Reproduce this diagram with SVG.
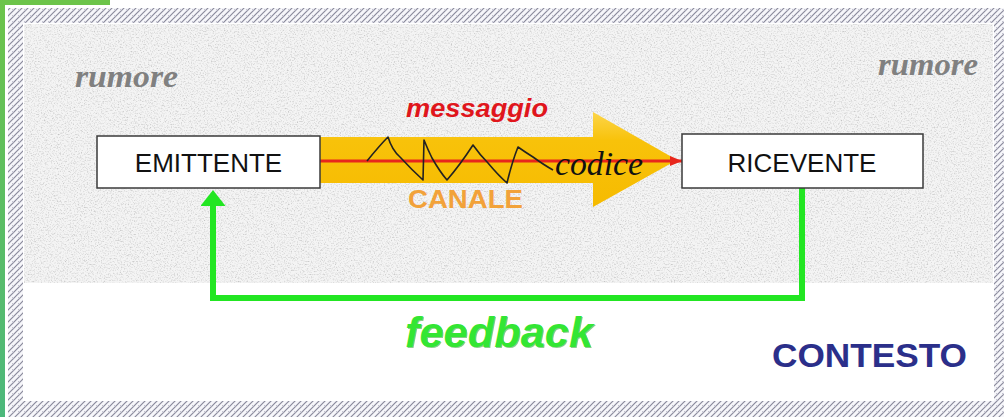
<svg xmlns="http://www.w3.org/2000/svg" width="1004" height="417" viewBox="0 0 1004 417">
  <style>
    .box { fill: #ffffff; stroke: #3a3a3a; stroke-width: 1.5; }
    .boxtxt { font-family: "Liberation Sans", Arial, sans-serif; font-size: 26px; fill: #111; text-anchor: middle; }
    .rumore { font-family: "Liberation Serif", "Times New Roman", serif; font-style: italic; font-weight: bold; font-size: 32px; fill: #808080; }
    .fb { fill: none; stroke: #22e622; stroke-width: 6; stroke-linejoin: miter; }
  </style>
  <defs>
    <pattern id="hatch" width="6" height="6" patternUnits="userSpaceOnUse">
      <rect width="6" height="6" fill="#f6f6fa"/>
      <path d="M0,6 L6,0 M-1,1 L1,-1 M5,7 L7,5" stroke="#8a8a9c" stroke-width="1.2"/>
      <path d="M0,3 L1.5,4.5" stroke="#b8b8c6" stroke-width="0.8"/>
    </pattern>
    <linearGradient id="leftbar" x1="0" y1="0" x2="0" y2="1">
      <stop offset="0" stop-color="#6cc44a"/>
      <stop offset="1" stop-color="#4cb87c"/>
    </linearGradient>
    <linearGradient id="yellow" x1="0" y1="0" x2="0" y2="1">
      <stop offset="0" stop-color="#fcd54a"/>
      <stop offset="0.3" stop-color="#f8c20a"/>
      <stop offset="1" stop-color="#f6bb00"/>
    </linearGradient>
    <filter id="noise" x="0" y="0" width="100%" height="100%">
      <feTurbulence type="fractalNoise" baseFrequency="0.7" numOctaves="3" seed="7" result="t"/>
      <feColorMatrix in="t" type="matrix" values="1.3 0 0 0 0.3  1.3 0 0 0 0.3  1.3 0 0 0 0.3  0 0 0 0 0.6" result="n"/>
      <feComposite in="n" in2="SourceGraphic" operator="in"/>
    </filter>
    <marker id="redhead" markerWidth="12" markerHeight="10" refX="12" refY="5" orient="auto" markerUnits="userSpaceOnUse">
      <path d="M0,0 L12,5 L0,10 Z" fill="#e8261c"/>
    </marker>
    <marker id="greenhead" markerWidth="17" markerHeight="25" refX="0" refY="12.5" orient="auto" markerUnits="userSpaceOnUse">
      <path d="M0,0 L16,12.5 L0,25 Z" fill="#22e622"/>
    </marker>
  </defs>

  <!-- background & frame -->
  <rect x="0" y="0" width="1004" height="417" fill="#ffffff"/>
  <rect x="8" y="8" width="1004" height="417" fill="url(#hatch)"/>
  <rect x="23" y="23" width="971" height="378" fill="#ffffff"/>
  <rect x="24" y="24" width="969" height="259" fill="#e4e4e4"/>
  <rect x="24" y="24" width="969" height="259" fill="#ffffff" filter="url(#noise)"/>
  <rect x="0" y="0" width="110" height="5" fill="#6cc44a"/>
  <rect x="0" y="0" width="5" height="417" fill="url(#leftbar)"/>

  <!-- channel arrow -->
  <g id="canale">
    <path d="M320,137 L593,137 L593,112 L677,160 L593,207 L593,183 L320,183 Z" fill="url(#yellow)"/>
  </g>

  <!-- connectors -->
  <g id="connectors">
    <line x1="320" y1="161" x2="682" y2="161" stroke="#e8261c" stroke-width="3" marker-end="url(#redhead)"/>
    <path d="M367,161 Q380,145 388,137 Q392,150 400,157 Q412,170 423,180 L424,140 Q428,150 432,158 Q440,172 447,180 Q460,165 473,145 Q480,155 488,163 Q498,175 507,183 Q512,162 518,147 Q525,152 533,157 Q544,165 553,170" fill="none" stroke="#222" stroke-width="1.6" stroke-linejoin="round"/>
    <path class="fb" d="M802,188 L802,298 L213,298 L213,206" marker-end="url(#greenhead)"/>
  </g>

  <g id="node-emittente">
    <rect class="box" x="97" y="136" width="223" height="52"/>
    <text class="boxtxt" x="208.5" y="172">EMITTENTE</text>
  </g>
  <g id="node-ricevente">
    <rect class="box" x="682" y="134" width="241" height="54"/>
    <text class="boxtxt" x="802" y="172">RICEVENTE</text>
  </g>

  <g id="labels">
    <text class="rumore" x="75" y="87" textLength="103" lengthAdjust="spacingAndGlyphs">rumore</text>
    <text class="rumore" x="878" y="75" textLength="100" lengthAdjust="spacingAndGlyphs">rumore</text>
    <text x="406" y="117" font-family="Liberation Sans, Arial, sans-serif" font-weight="bold" font-style="italic" font-size="25" fill="#e0161c" textLength="142" lengthAdjust="spacingAndGlyphs">messaggio</text>
    <text x="555" y="175" font-family="Liberation Serif, 'Times New Roman', serif" font-style="italic" font-size="33" fill="#111" textLength="88" lengthAdjust="spacingAndGlyphs">codice</text>
    <text x="408" y="208" font-family="Liberation Sans, Arial, sans-serif" font-weight="bold" font-size="25" fill="#f2a23a" textLength="115" lengthAdjust="spacingAndGlyphs">CANALE</text>
    <text x="406" y="348" font-family="Liberation Sans, Arial, sans-serif" font-weight="bold" font-style="italic" font-size="42" fill="#1a9a1a" opacity="0.5" textLength="188" lengthAdjust="spacingAndGlyphs">feedback</text>
    <text x="405" y="347" font-family="Liberation Sans, Arial, sans-serif" font-weight="bold" font-style="italic" font-size="42" fill="#33e633" textLength="188" lengthAdjust="spacingAndGlyphs">feedback</text>
    <text x="772" y="367" font-family="Liberation Sans, Arial, sans-serif" font-weight="bold" font-size="33" fill="#2b2f8a" textLength="195" lengthAdjust="spacingAndGlyphs">CONTESTO</text>
  </g>
</svg>
